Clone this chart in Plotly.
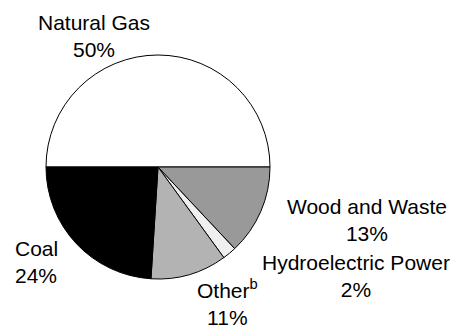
import plotly.graph_objects as go

# Energy source shares, drawn clockwise from 9 o'clock
sources = ["Natural Gas", "Wood and Waste", "Hydroelectric Power", "Other", "Coal"]
shares = [50, 13, 2, 11, 24]
label_names = ["Natural Gas", "Wood and Waste", "Hydroelectric Power", "Other<sup>b</sup>", "Coal"]
slice_colors = ["#ffffff", "#999999", "#efefef", "#b3b3b3", "#000000"]

# label centres in pixels (x from left, y from top)
label_px = [(94, 36), (367, 220), (356, 276), (227, 302), (14, 262)]

W, H = 465, 329
cx, cy, r = 158, 167, 112

fig = go.Figure(go.Pie(
    labels=sources,
    values=shares,
    sort=False,
    direction="clockwise",
    rotation=-90,
    marker=dict(colors=slice_colors, line=dict(color="#000000", width=1)),
    textinfo="none",
    hoverinfo="label+percent",
    showlegend=False,
    domain=dict(x=[(cx - r) / W, (cx + r) / W], y=[(H - cy - r) / H, (H - cy + r) / H]),
))

annotations = []
for name, val, (px, py) in zip(label_names, shares, label_px):
    left = name == "Coal"
    annotations.append(dict(
        text=f"{name}<br>{val}%",
        x=px / W, y=1 - py / H, xref="paper", yref="paper",
        xanchor="left" if left else "center", yanchor="middle",
        align="left" if left else "center",
        showarrow=False,
        borderpad=0,
        font=dict(family="Arial, Liberation Sans, sans-serif", size=21, color="#000000"),
    ))

fig.update_layout(
    width=W, height=H,
    margin=dict(l=0, r=0, t=0, b=0),
    paper_bgcolor="#ffffff",
    plot_bgcolor="#ffffff",
    annotations=annotations,
)

fig.write_html("out.html")
